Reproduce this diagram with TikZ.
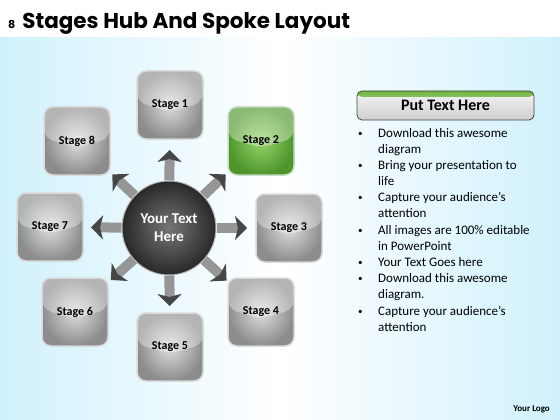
\documentclass[tikz,border=0pt]{standalone}
\usepackage{fontspec}
\setmainfont{Carlito}
\newfontfamily\titlefont{Poppins}
\usetikzlibrary{arrows.meta,calc,positioning}

\definecolor{skyblue}{RGB}{208,241,252}
\definecolor{boxin}{RGB}{222,222,222}
\definecolor{boxout}{RGB}{140,140,140}
\definecolor{grnin}{RGB}{150,212,105}
\definecolor{grnout}{RGB}{78,150,44}
\definecolor{hubin}{RGB}{118,118,118}
\definecolor{hubout}{RGB}{40,40,40}
\definecolor{spokegray}{RGB}{150,150,150}
\definecolor{tipgray}{RGB}{70,70,70}
\definecolor{headgreen}{RGB}{110,180,60}

\begin{document}
\begin{tikzpicture}[x=1pt,y=-1pt,
		stage node/.style={rectangle,rounded corners=9pt,draw=gray!30,line width=1.5pt,
			minimum width=66pt,minimum height=68pt,inner color=boxin,outer color=boxout,
			font=\fontsize{12}{14}\selectfont\bfseries,
			path picture={\fill[white,opacity=.35] (path picture bounding box.north west)
				-- (path picture bounding box.north east) -- ([yshift=3pt]path picture bounding box.east)
				.. controls ([yshift=-7pt]path picture bounding box.center) .. ([yshift=3pt]path picture bounding box.west) -- cycle;}},
		green node/.style={stage node,inner color=grnin,outer color=grnout,draw=green!25!gray!35},
		hub node/.style={circle,minimum size=94pt,inner color=hubin,outer color=hubout,
			draw=gray!55,line width=1pt,text=white,align=center,
			font=\fontsize{15}{18}\selectfont\bfseries},
		spoke/.style={draw=spokegray,line width=10pt,
			-{Stealth[length=12pt,width=24pt,inset=3pt,color=tipgray]}},
		head box/.style={rectangle,rounded corners=5pt,minimum width=177pt,minimum height=29pt,
			top color=gray!8,bottom color=gray!38,draw=gray!55!black,line width=.8pt,
			font=\fontsize{16}{19}\selectfont\bfseries,
			path picture={\shade[top color=headgreen,bottom color=gray!8] (path picture bounding box.north west)
				rectangle ([yshift=-6pt]path picture bounding box.north east);}}]

		\useasboundingbox (0,0) rectangle (560,420);
		% background
		\fill[white] (0,0) rectangle (560,38);
		\fill[left color=skyblue,right color=skyblue,middle color=white] (0,38) rectangle (560,420);

		\node[anchor=base west,inner sep=0pt,font=\titlefont\bfseries] (title) at (8,29)
			{{\fontsize{11}{13}\selectfont 8}\hspace{7pt}{\fontsize{21.5}{25}\selectfont Stages Hub And Spoke Layout}};

		% stages
		\node[stage node] (s1) at (170,105) {Stage 1};
		\node[green node] (s2) at (261,141) {Stage 2};
		\node[stage node] (s3) at (289,228) {Stage 3};
		\node[stage node] (s4) at (261,312) {Stage 4};
		\node[stage node] (s5) at (170,347) {Stage 5};
		\node[stage node] (s6) at (75,312) {Stage 6};
		\node[stage node] (s7) at (50,227) {Stage 7};
		\node[stage node] (s8) at (77,141) {Stage 8};

		% hub and spokes
		\node[hub node] (hub) at (169,228) {Your Text\\Here};
		\foreach \s in {1,...,8}
			\draw[spoke] (hub) -- ($(hub.center)!78pt!(s\s)$);

		% text panel
		\node[head box] (head) at (445.5,105.5) {\raisebox{-2pt}{Put Text Here}};
		\node[anchor=base west,inner sep=0pt,font=\fontsize{13}{16.2}\selectfont] (list) at (358,137)
			{\begin{tabular}[t]{@{}p{20pt}@{}l@{}}
				\raisebox{1pt}{\fontsize{9}{10}\selectfont\textbullet} & Download this awesome\\
				& diagram\\
				\raisebox{1pt}{\fontsize{9}{10}\selectfont\textbullet} & Bring your presentation to\\
				& life\\
				\raisebox{1pt}{\fontsize{9}{10}\selectfont\textbullet} & Capture your audience’s\\
				& attention\\
				\raisebox{1pt}{\fontsize{9}{10}\selectfont\textbullet} & All images are 100\% editable\\
				& in PowerPoint\\
				\raisebox{1pt}{\fontsize{9}{10}\selectfont\textbullet} & Your Text Goes here\\
				\raisebox{1pt}{\fontsize{9}{10}\selectfont\textbullet} & Download this awesome\\
				& diagram.\\
				\raisebox{1pt}{\fontsize{9}{10}\selectfont\textbullet} & Capture your audience’s\\
				& attention
			\end{tabular}};

		\node[anchor=base east,inner sep=0pt,font=\fontsize{9}{11}\selectfont\bfseries] (logo) at (550,411) {Your Logo};
\end{tikzpicture}
\end{document}
